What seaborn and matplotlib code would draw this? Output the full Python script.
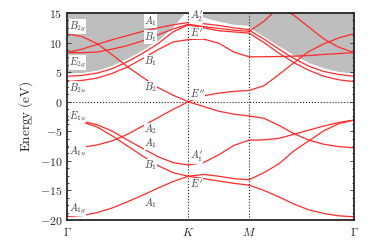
import matplotlib
matplotlib.use("Agg")
import matplotlib.pyplot as plt
import numpy as np
import pandas as pd
import seaborn as sns
from matplotlib.ticker import AutoMinorLocator, FuncFormatter

# k-path: Gamma -> K -> M -> Gamma (hexagonal BZ, |GK| = 1)
K_POS = 1.0
M_POS = 1.5
G2_POS = 1.5 + np.sqrt(3) / 2
tick_pos = [0.0, K_POS, M_POS, G2_POS]
tick_labels = [r"$\Gamma$", r"$K$", r"$M$", r"$\Gamma$"]

gk_frac = [0, 0.125, 0.25, 0.375, 0.5, 0.625, 0.75, 0.875, 1.0]
km_frac = [0, 0.25, 0.5, 0.75, 1.0]
mg_frac = [0, 1 / 7, 2 / 7, 3 / 7, 4 / 7, 5 / 7, 6 / 7, 1.0]

# bands (eV)
gk_bands = [
    [-19.4, -19.25, -18.75, -17.95, -16.9, -15.8, -14.6, -13.5, -12.6],
    [-3.1, -3.4, -4.3, -5.8, -7.5, -9.2, -10.8, -12.0, -12.6],
    [-3.1, -3.3, -3.9, -5.0, -6.5, -7.9, -9.3, -10.3, -10.7],
    [-7.8, -7.7, -7.3, -6.6, -5.5, -4.1, -2.7, -1.3, 0.0],
    [11.5, 11.0, 9.8, 7.9, 5.9, 4.1, 2.4, 1.1, 0.0],
    [3.4, 3.6, 4.0, 4.8, 5.9, 7.3, 8.8, 10.1, 10.5],
    [4.3, 4.45, 4.85, 5.6, 6.8, 8.2, 9.8, 11.8, 13.0],
    [8.3, 8.3, 8.4, 8.9, 9.5, 10.3, 11.3, 12.3, 13.1],
    [8.3, 8.9, 9.7, 10.5, 11.2, 11.9, 12.5, 13.0, 13.4],
]
km_bands = [
    [-12.6, -12.3, -12.6, -13.0, -13.2],
    [-12.6, -13.0, -13.4, -13.8, -14.1],
    [-10.7, -10.3, -9.0, -7.4, -6.5],
    [0.0, -0.8, -1.6, -2.1, -2.4],
    [0.0, 1.0, 1.45, 1.75, 1.9],
    [10.5, 10.6, 9.9, 8.4, 7.6],
    [13.0, 12.5, 12.0, 11.8, 11.6],
    [13.1, 12.7, 12.4, 12.1, 11.9],
    [13.4, 13.2, 12.9, 12.5, 12.2],
]
mg_bands = [
    [-14.1, -15.0, -16.1, -17.3, -18.3, -18.9, -19.3, -19.45],
    [-13.2, -12.0, -10.5, -8.3, -6.6, -4.9, -3.7, -3.1],
    [-6.5, -6.45, -6.2, -5.5, -4.8, -4.1, -3.5, -3.1],
    [-2.4, -2.8, -4.0, -5.4, -6.5, -7.2, -7.6, -7.8],
    [1.9, 2.7, 4.6, 6.6, 8.5, 9.8, 10.8, 11.5],
    [7.6, 7.6, 7.65, 7.7, 7.8, 8.0, 8.15, 8.3],
    [11.6, 10.0, 8.2, 6.6, 5.3, 4.3, 3.7, 3.4],
    [12.1, 10.6, 8.9, 7.3, 6.0, 5.1, 4.6, 4.3],
    [11.9, 13.6, 16.0, 14.6, 12.6, 10.6, 9.2, 8.3],
]

# lower edge of the grey continuum
gk_edge = [4.85, 4.95, 5.35, 6.2, 7.4, 8.8, 10.4, 12.7, 15.8]
km_edge = [15.8, 14.3, 13.6, 13.1, 12.9]
mg_edge = [12.6, 11.0, 9.4, 7.9, 6.6, 5.7, 5.1, 4.85]

# symmetry labels: (k, E, text)
labels = [
    (0.015, 12.7, r"$B_{2g}$"), (0.015, 6.6, r"$E_{2g}$"),
    (0.015, 2.3, r"$B_{2u}$"), (0.015, -2.4, r"$E_{1u}$"),
    (0.015, -8.4, r"$A_{1u}$"), (0.015, -18.1, r"$A_{1g}$"),
    (0.635, 13.7, r"$A_1$"), (0.635, 11.0, r"$B_1$"),
    (0.635, 6.8, r"$B_1$"), (0.635, 2.4, r"$B_2$"),
    (0.635, -4.7, r"$A_2$"), (0.635, -7.0, r"$A_1$"),
    (0.635, -10.8, r"$B_1$"), (0.635, -17.1, r"$A_1$"),
    (1.01, 14.4, r"$A_2'$"), (1.01, 11.6, r"$E'$"),
    (1.01, 1.4, r"$E''$"), (1.01, -9.3, r"$A_1'$"),
    (1.01, -13.9, r"$E'$"),
]


def build_frame():
    rows = []
    segs = [(0.0, K_POS, gk_frac, gk_bands),
            (K_POS, M_POS - K_POS, km_frac, km_bands),
            (M_POS, G2_POS - M_POS, mg_frac, mg_bands)]
    bid = 0
    for start, length, frac, bands in segs:
        for band in bands:
            for f, e in zip(frac, band):
                rows.append({"k": start + f * length, "E": e, "band": bid})
            bid += 1
    return pd.DataFrame(rows)


def edge_curve():
    k = ([f * K_POS for f in gk_frac]
         + [K_POS + f * (M_POS - K_POS) for f in km_frac]
         + [M_POS + f * (G2_POS - M_POS) for f in mg_frac])
    return np.array(k), np.array(gk_edge + km_edge + mg_edge)


sns.set_theme(style="ticks")
plt.rcParams["mathtext.fontset"] = "cm"
plt.rcParams["font.family"] = ["DejaVu Serif"]

df = build_frame()

fig = plt.figure(figsize=(3.74, 2.43), dpi=100)
ax = fig.add_axes([67 / 374, 23 / 243, 287 / 374, 207 / 243])

ek, ee = edge_curve()
ax.fill_between(ek, ee, 25, color="#bebebe", lw=0, zorder=0)

sns.lineplot(data=df, x="k", y="E", units="band", estimator=None, sort=False,
             color="#ff2a2a", lw=0.9, legend=False, ax=ax, zorder=2)

ax.axhline(0, color="k", ls=":", lw=0.8, zorder=1)
for x in (K_POS, M_POS):
    ax.axvline(x, color="k", ls=":", lw=0.8, zorder=1)

for k, e, t in labels:
    ax.text(k, e, t, fontsize=7.5, color="#3a3a3a", ha="left", va="center",
            zorder=3, bbox=dict(facecolor="white", edgecolor="none", pad=0.1))

ax.set_xlim(0, G2_POS)
ax.set_ylim(-20, 15)
ax.set_xticks(tick_pos)
ax.set_xticklabels(tick_labels, fontsize=8.5)
ax.set_yticks(range(-20, 16, 5))
ax.yaxis.set_major_formatter(FuncFormatter(lambda v, p: f"${v:g}$"))
ax.yaxis.set_minor_locator(AutoMinorLocator(4))
ax.tick_params(axis="y", which="both", direction="in", right=True,
               labelsize=8.5, width=0.6)
ax.tick_params(axis="y", which="major", length=3)
ax.tick_params(axis="y", which="minor", length=1.5)
ax.tick_params(axis="x", length=0, pad=4)
ax.set_xlabel("")
ax.set_ylabel(r"$\mathrm{Energy\ (eV)}$", fontsize=9.5, labelpad=3)
for sp in ax.spines.values():
    sp.set_linewidth(1.3)

fig.savefig("out.png", dpi=100)
